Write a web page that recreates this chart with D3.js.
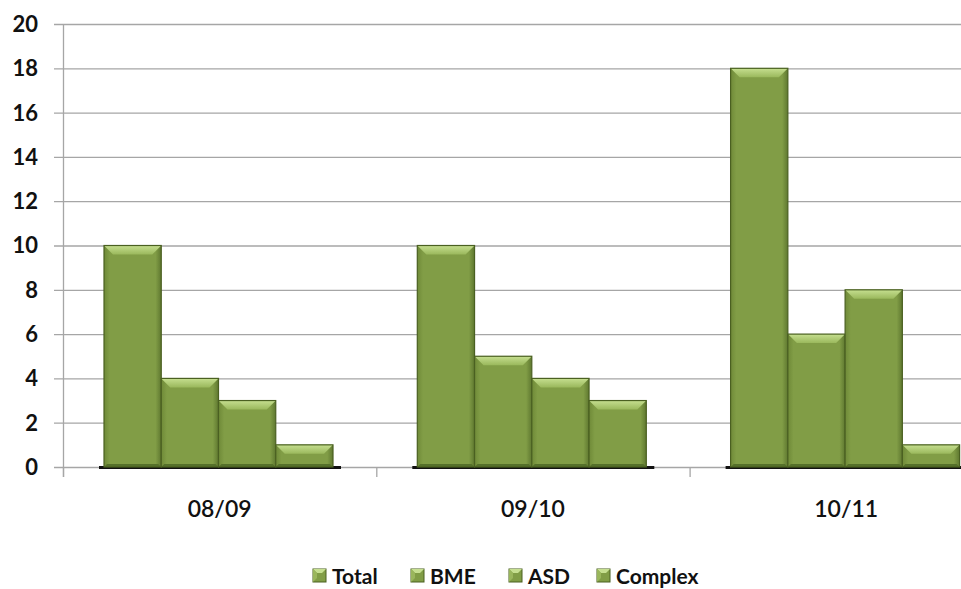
<!DOCTYPE html>
<html><head><meta charset="utf-8">
<script src="https://cdn.jsdelivr.net/npm/d3@7"></script>
<style>body{margin:0;background:#fff}svg{display:block}</style>
</head><body><svg id="c" width="961" height="589"></svg>
<script>
const categories = ["08/09", "09/10", "10/11"];
const series = ["Total", "BME", "ASD", "Complex"];
const total = [10, 10, 18];
const bme = [4, 5, 6];
const asd = [3, 4, 8];
const complex = [1, 3, 1];
const yTicks = [0, 2, 4, 6, 8, 10, 12, 14, 16, 18, 20];
const values = [total, bme, asd, complex];

const svg = d3.select("#c");
const font = "Lato, 'Open Sans', sans-serif";
const x0 = 63, yTop = 24, yBot = 467, catW = 313.3;
const x = d3.scaleBand().domain(categories).range([x0, x0 + catW * 3]);
const xs = d3.scaleBand().domain(series).range([41, 270]);
const y = d3.scaleLinear().domain([0, 20]).range([yBot, yTop]);

const defs = svg.append("defs");
const g1 = defs.append("linearGradient").attr("id", "body").attr("x1", 0).attr("x2", 1).attr("y1", 0).attr("y2", 0);
g1.append("stop").attr("offset", "0%").attr("stop-color", "#6f8a38");
g1.append("stop").attr("offset", "10%").attr("stop-color", "#819d46");
g1.append("stop").attr("offset", "90%").attr("stop-color", "#819d46");
g1.append("stop").attr("offset", "100%").attr("stop-color", "#5f7830");
const g2 = defs.append("linearGradient").attr("id", "top").attr("x1", 0).attr("x2", 0).attr("y1", 0).attr("y2", 1);
g2.append("stop").attr("offset", "0%").attr("stop-color", "#c6df90");
g2.append("stop").attr("offset", "100%").attr("stop-color", "#9ab85c");

// gridlines
svg.append("g").selectAll("line").data(yTicks).join("line")
  .attr("x1", 54).attr("x2", 961).attr("y1", d => y(d) + 0.5).attr("y2", d => y(d) + 0.5)
  .attr("stroke", "#a6a6a6").attr("stroke-width", 1.3);
// y axis line
svg.append("line").attr("x1", x0 + 0.5).attr("x2", x0 + 0.5).attr("y1", yTop).attr("y2", yBot + 10)
  .attr("stroke", "#a6a6a6").attr("stroke-width", 1.3);
// category ticks
svg.append("g").selectAll("line").data(categories).join("line")
  .attr("x1", d => x(d) + 0.5).attr("x2", d => x(d) + 0.5).attr("y1", yBot).attr("y2", yBot + 10)
  .attr("stroke", "#a6a6a6").attr("stroke-width", 1.3);

// y labels
svg.append("g").selectAll("text").data(yTicks).join("text")
  .attr("x", 38).attr("y", d => y(d)).attr("dy", "0.36em").attr("text-anchor", "end")
  .attr("font-family", font).attr("font-weight", "bold").attr("font-size", 22).attr("fill", "#111")
  .text(d => d);
// x labels
svg.append("g").selectAll("text").data(categories).join("text")
  .attr("x", d => x(d) + x.bandwidth() / 2).attr("y", 509).attr("dy", "0.36em").attr("text-anchor", "middle")
  .attr("font-family", font).attr("font-weight", 600).attr("font-size", 23).attr("fill", "#111")
  .text(d => d);

// baseline shadows
svg.append("g").selectAll("line").data(categories).join("line")
  .attr("x1", d => x(d) + xs.range()[0] - 5).attr("x2", d => x(d) + xs.range()[1] + 8)
  .attr("y1", yBot + 0.5).attr("y2", yBot + 0.5).attr("stroke", "#111").attr("stroke-width", 3);

function bevelBar(g, bx, by, bw, bh) {
  const b = Math.min(9, bh / 2);
  g.append("rect").attr("x", bx).attr("y", by).attr("width", bw).attr("height", bh).attr("fill", "url(#body)");
  g.append("path").attr("d", `M${bx},${by}L${bx + bw},${by}L${bx + bw - b},${by + b}L${bx + b},${by + b}Z`).attr("fill", "url(#top)");
  g.append("path").attr("d", `M${bx},${by + bh}L${bx + bw},${by + bh}L${bx + bw - 3},${by + bh - 3}L${bx + 3},${by + bh - 3}Z`).attr("fill", "#55702a");
  g.append("rect").attr("x", bx).attr("y", by).attr("width", bw).attr("height", bh)
    .attr("fill", "none").attr("stroke", "#4a6021").attr("stroke-width", 1.2);
}

categories.forEach((c, ci) => {
  series.forEach((s, si) => {
    const v = values[si][ci];
    const g = svg.append("g");
    bevelBar(g, x(c) + xs(s), y(v), xs.bandwidth(), y(0) - y(v));
  });
});

// legend
const legX = [313, 411, 509, 597];
const lg = svg.append("g");
series.forEach((s, i) => {
  const g = lg.append("g").attr("transform", `translate(${legX[i]},569)`);
  g.append("rect").attr("width", 13).attr("height", 13).attr("fill", "#819d46").attr("stroke", "#4a6021");
  g.append("path").attr("d", "M0,0L13,0L9,4L4,4Z").attr("fill", "#c6df90");
  g.append("path").attr("d", "M0,0L4,4L4,9L0,13Z").attr("fill", "#9ab65c");
  g.append("text").attr("x", 19).attr("y", 7).attr("dy", "0.36em")
    .attr("font-family", font).attr("font-weight", "bold").attr("font-size", 21).attr("fill", "#111").text(s);
});
</script></body></html>
